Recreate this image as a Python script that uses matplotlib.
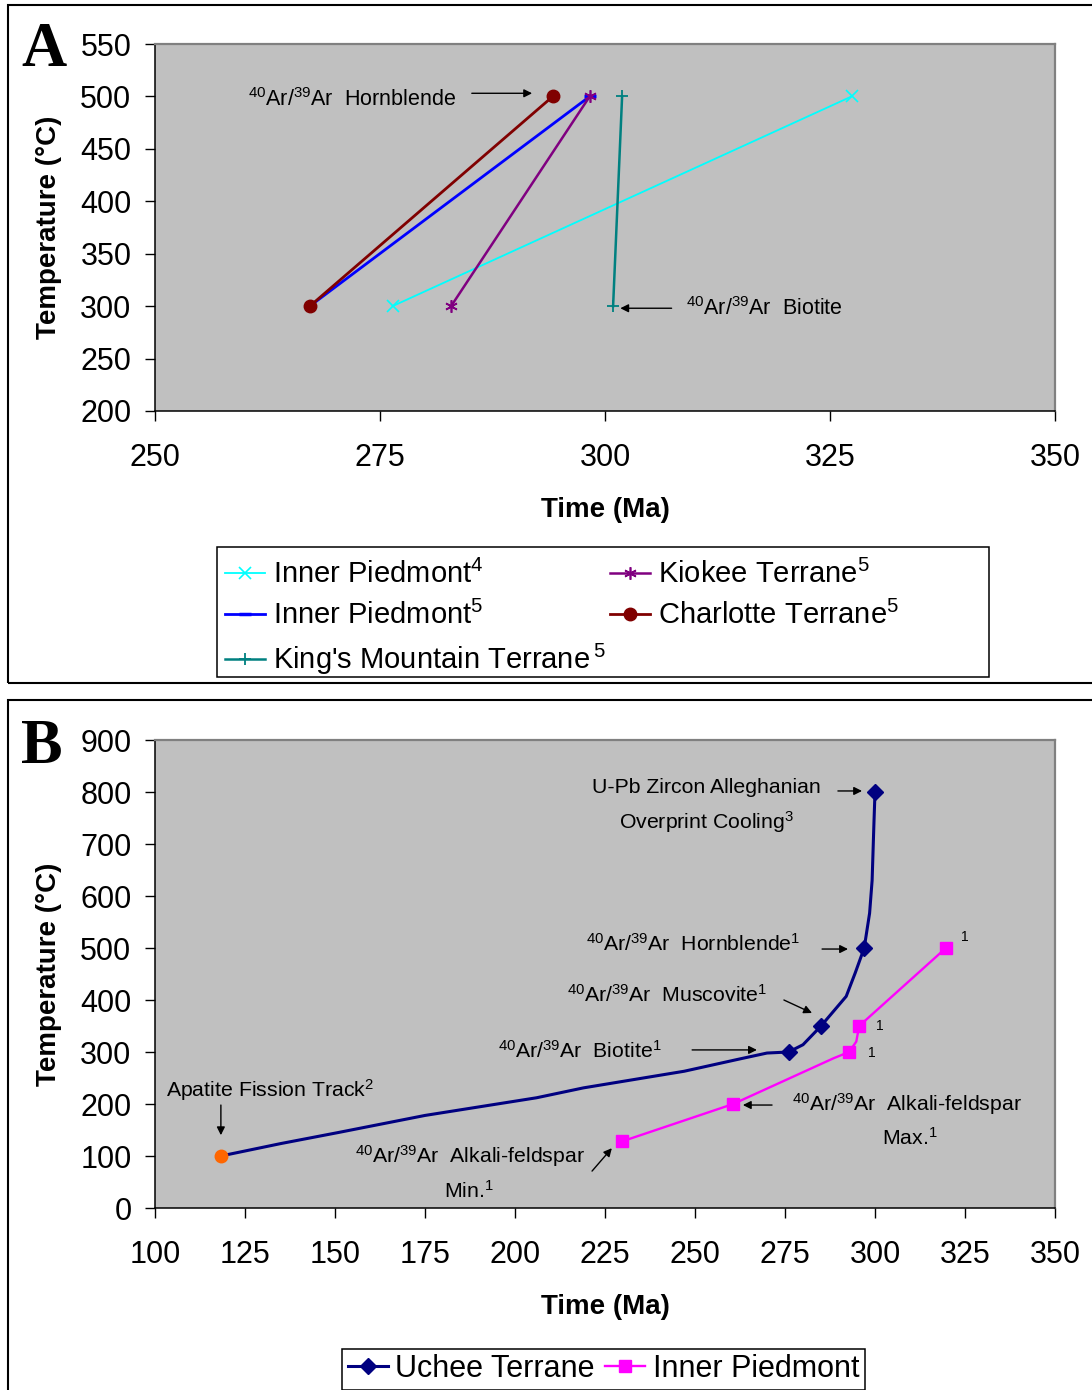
import matplotlib
matplotlib.use('Agg')
import matplotlib.pyplot as plt
from matplotlib.patches import Rectangle

plt.rcParams['font.family'] = ['Liberation Sans', 'DejaVu Sans']
plt.rcParams['mathtext.fontset'] = 'custom'
plt.rcParams['mathtext.rm'] = 'Liberation Sans'
plt.rcParams['mathtext.it'] = 'Liberation Sans:italic'
plt.rcParams['mathtext.bf'] = 'Liberation Sans:bold'

# ---- panel A: cooling paths (time in Ma, temperature in C)
ip4_t = [276.4, 327.4]
ip4_temp = [300, 500]
ip5_t = [267.2, 298.3]
ip5_temp = [300, 500]
kiokee_t = [282.9, 298.3]
kiokee_temp = [300, 500]
charlotte_t = [267.2, 294.2]
charlotte_temp = [300, 500]
kmt_t = [300.9, 301.9]
kmt_temp = [300, 500]

a_xticks = [250, 275, 300, 325, 350]
a_yticks = [200, 250, 300, 350, 400, 450, 500, 550]

# ---- panel B
uchee_t = [118.3, 135, 150.8, 175, 206, 219, 247, 262, 270, 276, 280, 285,
           292, 294.5, 297, 298.5, 299.2, 299.7, 300]
uchee_temp = [100, 124, 145, 178, 212, 231, 263, 286, 298, 300, 314, 350,
              407, 452, 500, 567, 630, 739, 800]
uchee_marked = [9, 11, 14, 18]
apatite_t = [118.3]
apatite_temp = [100]
ipb_t = [229.7, 260.6, 288.5, 292.8, 294.8, 295.6, 319.7]
ipb_temp = [128, 200, 288, 300, 320, 350, 500]
ipb_marked = [0, 1, 3, 5, 6]

b_xticks = [100, 125, 150, 175, 200, 225, 250, 275, 300, 325, 350]
b_yticks = [0, 100, 200, 300, 400, 500, 600, 700, 800, 900]

W, H = 1092, 1390
fig = plt.figure(figsize=(W / 100, H / 100), dpi=100)

# panel frames
fig.add_artist(Rectangle((8 / W, 1 - 683 / H), 1.2, 678 / H, transform=fig.transFigure,
                         fill=False, ec='black', lw=1.5, clip_on=False))
fig.add_artist(Rectangle((8 / W, -0.05), 1.2, 0.05 + 1 - 700 / H, transform=fig.transFigure,
                         fill=False, ec='black', lw=1.5, clip_on=False))

axA = fig.add_axes([155 / W, 1 - 411 / H, 900 / W, 367 / H])
axB = fig.add_axes([155 / W, 1 - 1208 / H, 900 / W, 468 / H])


def style(ax, xticks, yticks):
    ax.set_facecolor('#C0C0C0')
    for s in ['top', 'right']:
        ax.spines[s].set_color('#808080')
        ax.spines[s].set_linewidth(1.6)
    for s in ['left', 'bottom']:
        ax.spines[s].set_color('black')
        ax.spines[s].set_linewidth(1.1)
    ax.set_xlim(xticks[0], xticks[-1])
    ax.set_ylim(yticks[0], yticks[-1])
    ax.set_xticks(xticks)
    ax.set_yticks(yticks)
    ax.tick_params(direction='out', length=7, width=1, labelsize=22)
    ax.tick_params(axis='x', pad=16)
    ax.tick_params(axis='y', pad=10)
    ax.set_xlabel('Time (Ma)', fontsize=20, fontweight='bold')
    ax.set_ylabel('Temperature (\u00b0C)', fontsize=20, fontweight='bold')
    ax.yaxis.set_label_coords(-0.103, 0.5)


style(axA, a_xticks, a_yticks)
style(axB, b_xticks, b_yticks)
axA.xaxis.set_label_coords(0.5, -0.235)
axB.xaxis.set_label_coords(0.5, -0.184)

# panel A series
h_ip4, = axA.plot(ip4_t, ip4_temp, color='#00FFFF', lw=1.3, marker='x', ms=8, mew=1.2,
                  label=r'Inner Piedmont$^{4}$')
h_ip5, = axA.plot(ip5_t, ip5_temp, color='#0000FF', lw=2, marker='_', ms=9, mew=2.5,
                  label=r'Inner Piedmont$^{5}$')
h_kio, = axA.plot(kiokee_t, kiokee_temp, color='#800080', lw=1.8, marker=(6, 2, 0), ms=9, mew=1.2,
                  label=r'Kiokee Terrane$^{5}$')
h_cha, = axA.plot(charlotte_t, charlotte_temp, color='#800000', lw=2, marker='o', ms=9,
                  label=r'Charlotte Terrane$^{5}$')
h_kmt, = axA.plot(kmt_t, kmt_temp, color='#008080', lw=1.8, marker='+', ms=9, mew=1.3,
                  label=r"King's Mountain Terrane$\,^{5}$")

akw = dict(arrowstyle='-|>', color='black', lw=1, mutation_scale=12, shrinkA=0, shrinkB=0)
axA.text(260.3, 497, r'$^{40}$Ar/$^{39}$Ar  Hornblende', fontsize=15.5, ha='left', va='center')
axA.annotate('', xy=(291.9, 503), xytext=(285.2, 503), arrowprops=akw)
axA.text(309.0, 298, r'$^{40}$Ar/$^{39}$Ar  Biotite', fontsize=15.5, ha='left', va='center')
axA.annotate('', xy=(301.7, 298), xytext=(307.4, 298), arrowprops=akw)

lkw = dict(frameon=False, fontsize=21, handlelength=1.37, handletextpad=0.27,
           labelspacing=0.4, borderpad=0, borderaxespad=0, loc='upper left')
fig.legend(handles=[h_ip4, h_ip5, h_kmt], bbox_to_anchor=(225 / W, 1 - 560 / H), **lkw)
fig.legend(handles=[h_kio, h_cha], bbox_to_anchor=(610 / W, 1 - 560 / H), **lkw)
fig.add_artist(Rectangle((217 / W, 1 - 677 / H), 772 / W, 130 / H, transform=fig.transFigure,
                         fill=False, ec='black', lw=1.1))

# panel B series
l_ipb, = axB.plot(ipb_t, ipb_temp, color='#FF00FF', lw=1.7)
m_ipb, = axB.plot([ipb_t[i] for i in ipb_marked], [ipb_temp[i] for i in ipb_marked],
                  ls='none', marker='s', ms=9, color='#FF00FF')
l_uch, = axB.plot(uchee_t, uchee_temp, color='#000080', lw=2.2)
m_uch, = axB.plot([uchee_t[i] for i in uchee_marked], [uchee_temp[i] for i in uchee_marked],
                  ls='none', marker='D', ms=8, color='#000080')
axB.plot(apatite_t, apatite_temp, ls='none', marker='o', ms=9, color='#FF6600')

fs = 15.3
axB.text(253.1, 808, 'U-Pb Zircon Alleghanian', fontsize=fs, ha='center', va='center')
axB.text(253.3, 742, r'Overprint Cooling$^{3}$', fontsize=fs, ha='center', va='center')
axB.annotate('', xy=(296.4, 802), xytext=(289.7, 802), arrowprops=akw)
axB.text(279.4, 508, r'$^{40}$Ar/$^{39}$Ar  Hornblende$^{1}$', fontsize=fs, ha='right', va='center')
axB.annotate('', xy=(292.5, 498), xytext=(285.3, 498), arrowprops=akw)
axB.text(270.0, 410, r'$^{40}$Ar/$^{39}$Ar  Muscovite$^{1}$', fontsize=fs, ha='right', va='center')
axB.annotate('', xy=(282.5, 375), xytext=(274.7, 400), arrowprops=akw)
axB.text(240.6, 303, r'$^{40}$Ar/$^{39}$Ar  Biotite$^{1}$', fontsize=fs, ha='right', va='center')
axB.annotate('', xy=(267.2, 304), xytext=(249.2, 304), arrowprops=akw)
axB.text(103.1, 227, r'Apatite Fission Track$^{2}$', fontsize=fs, ha='left', va='center')
axB.annotate('', xy=(118.3, 140), xytext=(118.3, 198), arrowprops=akw)
axB.text(219.4, 100, r'$^{40}$Ar/$^{39}$Ar  Alkali-feldspar', fontsize=fs, ha='right', va='center')
axB.text(180.3, 33, r'Min.$^{1}$', fontsize=fs, ha='left', va='center')
axB.annotate('', xy=(226.9, 115), xytext=(221.4, 71), arrowprops=akw)
axB.text(276.9, 200, r'$^{40}$Ar/$^{39}$Ar  Alkali-feldspar', fontsize=fs, ha='left', va='center')
axB.text(301.9, 135, r'Max.$^{1}$', fontsize=fs, ha='left', va='center')
axB.annotate('', xy=(263.3, 198), xytext=(271.4, 198), arrowprops=akw)
for x, y in [(325.0, 521), (301.4, 350), (299.2, 298)]:
    axB.text(x, y, '1', fontsize=10, ha='center', va='center')

legB = fig.legend(handles=[(l_uch, m_uch), (l_ipb, m_ipb)], labels=['Uchee Terrane', 'Inner Piedmont'],
                  ncol=2, loc='center', bbox_to_anchor=(603.5 / W, 1 - 1369 / H), fontsize=22,
                  frameon=True, fancybox=False, edgecolor='black', framealpha=1, borderpad=0.18,
                  columnspacing=0.33, handlelength=1.3, handletextpad=0.26, borderaxespad=0)
legB.get_frame().set_linewidth(1.1)

# panel letters
fig.text(21 / W, 1 - 66 / H, 'A', fontsize=45, fontweight='bold', family='Liberation Serif',
         ha='left', va='baseline')
fig.text(21 / W, 1 - 763 / H, 'B', fontsize=45, fontweight='bold', family='Liberation Serif',
         ha='left', va='baseline')

fig.savefig('out.png', dpi=100)
